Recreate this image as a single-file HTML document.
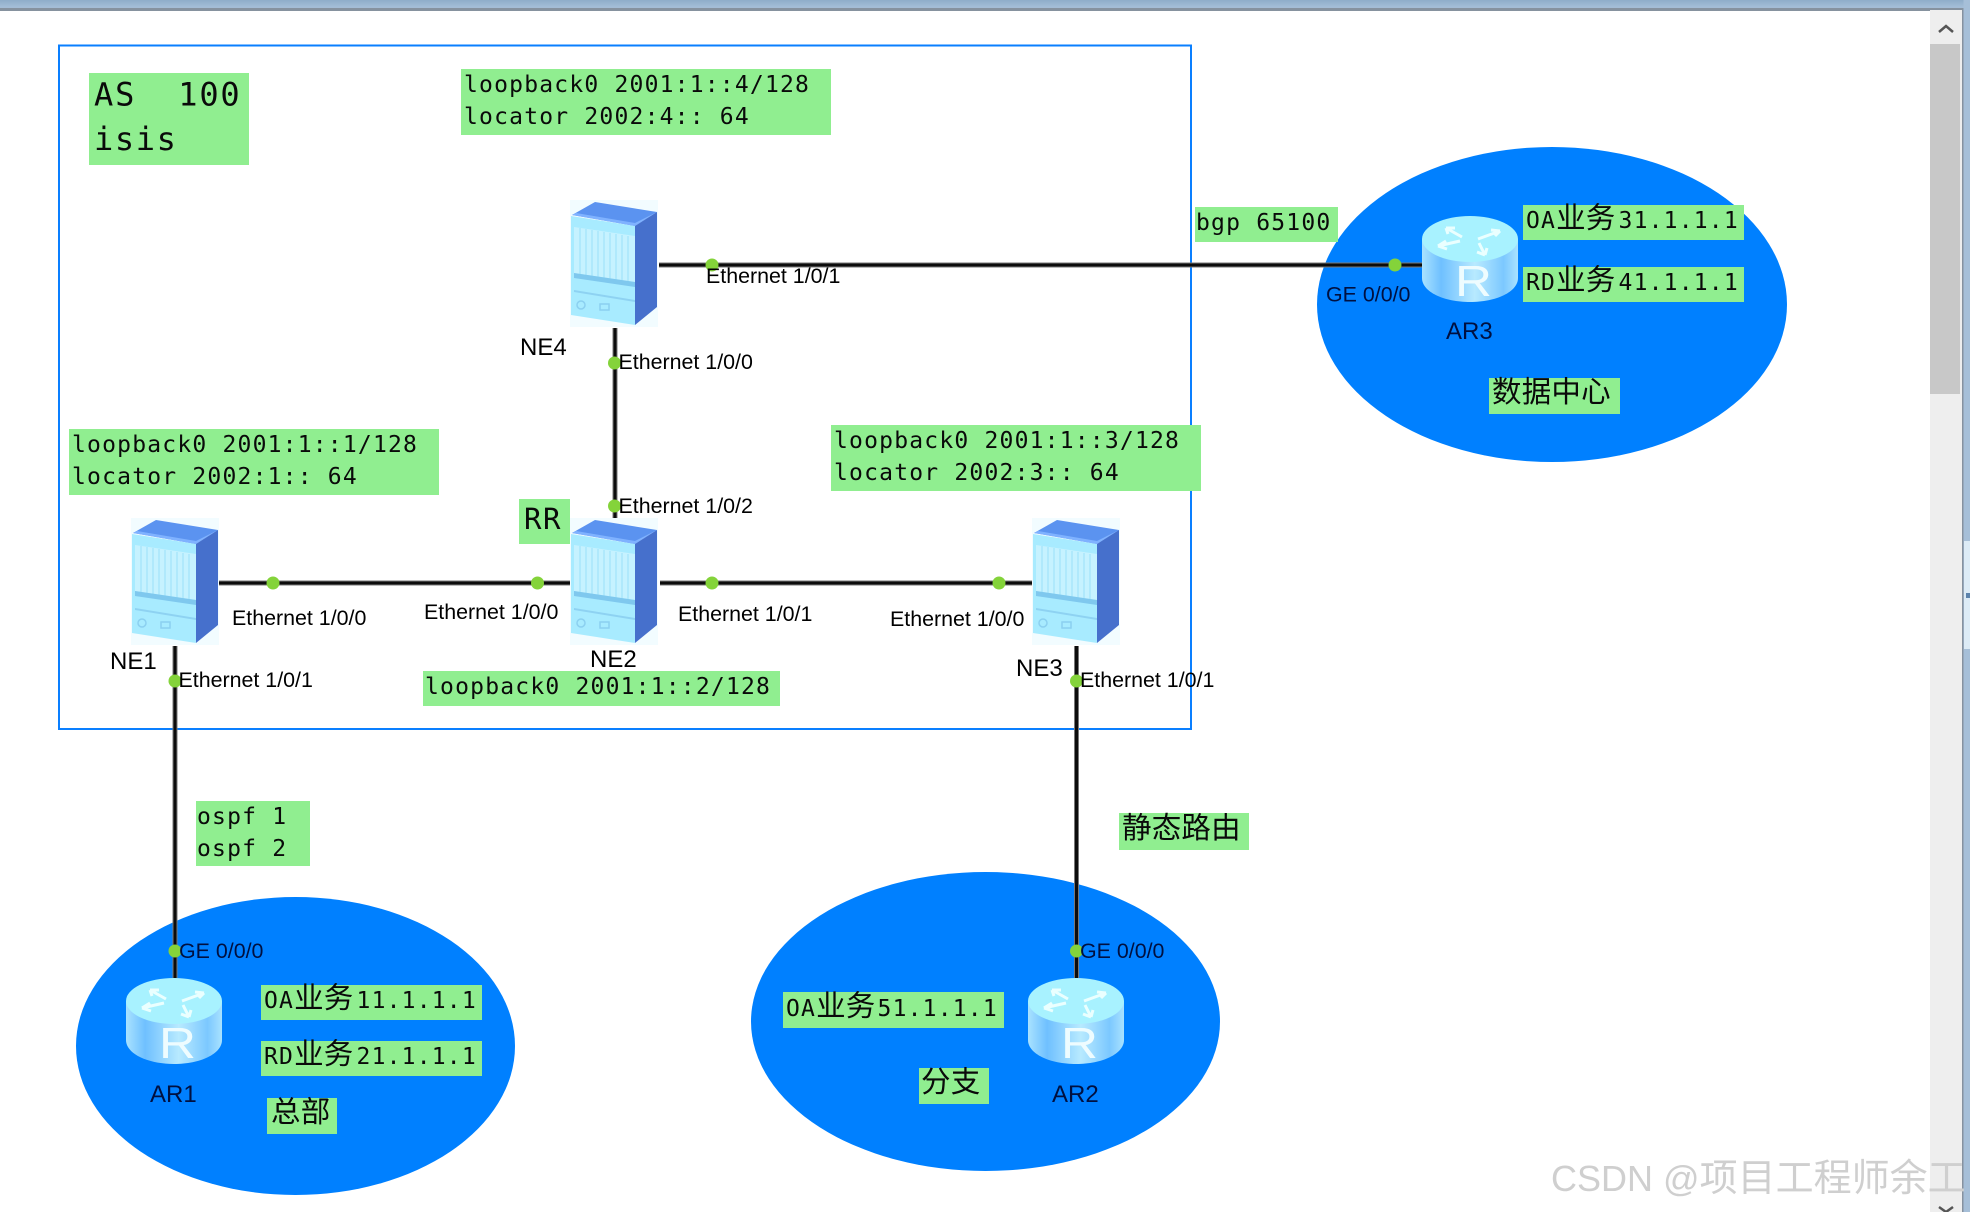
<!DOCTYPE html>
<html><head><meta charset="utf-8"><style>
html,body{margin:0;padding:0;background:#fff;width:1970px;height:1212px;overflow:hidden}
svg{display:block}
.m{font-family:"DejaVu Sans Mono","Liberation Mono",monospace;font-size:23px;letter-spacing:1.2px;fill:#0a0a0a;white-space:pre}
.c{font-family:"Noto Sans CJK SC","WenQuanYi Zen Hei",sans-serif;font-size:29.5px;letter-spacing:.2px;fill:#0a0a0a}
.e{font-family:"Liberation Sans",sans-serif;font-size:21.4px;fill:#000}
.n{font-family:"Liberation Sans",sans-serif;font-size:24px;fill:#000}
.d{font-family:"Liberation Sans",sans-serif;font-size:24px;fill:#001040}
.g{font-family:"Liberation Sans",sans-serif;font-size:21.4px;fill:#001040}
.w{font-family:"Liberation Sans","Noto Sans CJK SC",sans-serif;font-size:36px;fill:#cfcfcf}
</style></head><body>
<svg width="1970" height="1212" viewBox="0 0 1970 1212" xmlns="http://www.w3.org/2000/svg">
<defs>
<linearGradient id="bar" x1="0" y1="0" x2="0" y2="1"><stop offset="0" stop-color="#8fadc9"/><stop offset=".7" stop-color="#a6bfd8"/><stop offset=".75" stop-color="#86929f"/><stop offset="1" stop-color="#86929f"/></linearGradient>
<linearGradient id="rb" x1="0" y1="0" x2="1" y2="0"><stop offset="0" stop-color="#a9e2ff"/><stop offset=".2" stop-color="#6fc0ff"/><stop offset=".55" stop-color="#b8eaff"/><stop offset=".85" stop-color="#7cc8ff"/><stop offset="1" stop-color="#a9e2ff"/></linearGradient>
<g id="dev">
<rect x="0" y="0" width="88" height="127" fill="#f2fcff"/>
<polygon points="1,16 65,26 65,125 1,115" fill="#a8ebff"/>
<polygon points="2,15 25,2 87,12 65,26" fill="#5b93f0"/>
<polygon points="2,15 65,26 87,12 65,23 6,13" fill="#7fb2ff"/>
<polygon points="65,26 87,12 87,107 65,125" fill="#4670cc"/>
<polygon points="4,27 65,36 65,82 4,73" fill="#c6f2ff"/>
<g stroke="#a8e6fb" stroke-width="1.500"><path d="M10 28V74M16 29V75M22 30V76M28 31V77M34 32V78M40 33V79M46 34V80M52 35V81M58 36V82"/></g>
<polygon points="4,73 65,82 65,87 4,78" fill="#7fc8ee"/>
<polygon points="4,90 65,100 65,102 4,92" fill="#8ed2f2"/>
<g fill="none" stroke="#8bd0f0" stroke-width="1.500"><circle cx="11" cy="105" r="4"/><rect x="30" y="104" width="9" height="6"/></g>
</g>
<g id="rtr">
<path d="M0 23V62C0 76 22 86 48 86S96 76 96 62V23Z" fill="url(#rb)"/>
<ellipse cx="48" cy="23" rx="48" ry="23" fill="#a8f2ff"/>
<g fill="none" stroke="#eaffff" stroke-width="3"><path d="M40 21L24 12M24 12l9 0M24 12l2 6"/><path d="M56 23L78 15M78 15l-9-1M78 15l-5 5"/><path d="M57 27L63 39M63 39l-8-3M63 39l2-7"/><path d="M38 25L16 30M16 30l8-5M16 30l9 3"/></g>
<text x="33" y="80" font-family="Liberation Sans,sans-serif" font-size="44" textLength="37" lengthAdjust="spacingAndGlyphs" fill="#eefcff">R</text>
</g>
</defs>

<rect x="0" y="0" width="1970" height="11" fill="url(#bar)"/>

<ellipse cx="295.500" cy="1046" rx="219.500" ry="149" fill="#0080ff"/>
<ellipse cx="985.500" cy="1021.500" rx="234.500" ry="149.500" fill="#0080ff"/>
<ellipse cx="1552" cy="304.500" rx="235" ry="157.500" fill="#0080ff"/>

<rect x="59" y="45.500" width="1132" height="683.500" fill="none" stroke="#0a7fff" stroke-width="2"/>

<g fill="none" stroke="#777" stroke-width="5">
<path d="M659 265H1422M219 583H570M660 583H1032M615 328V518M175 646V978M1076.500 646V978"/>
</g>
<g fill="none" stroke="#0c0c0c" stroke-width="3">
<path d="M659 265H1422M219 583H570M660 583H1032M615 328V518M175 646V978M1076.500 646V978"/>
</g>

<use href="#dev" x="570" y="200"/>
<use href="#dev" x="131" y="518"/>
<use href="#dev" x="570" y="518"/>
<use href="#dev" x="1032" y="518"/>
<use href="#rtr" x="126" y="978"/>
<use href="#rtr" x="1028" y="978"/>
<use href="#rtr" x="1422" y="216"/>

<g fill="#84d33a">
<circle cx="712" cy="265" r="6.500"/><circle cx="1395" cy="265" r="6.500"/>
<circle cx="614.500" cy="363" r="6.500"/><circle cx="614.500" cy="506" r="6.500"/>
<circle cx="273" cy="583" r="6.500"/><circle cx="537.500" cy="583" r="6.500"/>
<circle cx="712" cy="583" r="6.500"/><circle cx="999" cy="583" r="6.500"/>
<circle cx="175" cy="681" r="6.500"/><circle cx="1076.500" cy="681" r="6.500"/>
<circle cx="175" cy="951" r="6.500"/><circle cx="1076.500" cy="951" r="6.500"/>
</g>

<g fill="#90ee90">
<rect x="89" y="73" width="160" height="92"/>
<rect x="461" y="69" width="370" height="66"/>
<rect x="69" y="429" width="370" height="66"/>
<rect x="831" y="425" width="370" height="66"/>
<rect x="519" y="499" width="51" height="45"/>
<rect x="423" y="671" width="357" height="35"/>
<rect x="196" y="801" width="114" height="65"/>
<rect x="1119" y="813" width="130" height="37"/>
<rect x="1195" y="207" width="143" height="35"/>
<rect x="1523" y="205" width="221" height="35"/>
<rect x="1523" y="267" width="221" height="35"/>
<rect x="1489" y="378" width="131" height="36"/>
<rect x="261" y="985" width="221" height="35"/>
<rect x="261" y="1041" width="221" height="35"/>
<rect x="267" y="1098" width="70" height="36"/>
<rect x="783" y="992" width="221" height="36"/>
<rect x="919" y="1068" width="70" height="36"/>
</g>

<text class="m" x="94" y="105.500" style="font-size:32px;letter-spacing:1.8px">AS  100</text>
<text class="m" x="94" y="150" style="font-size:32px;letter-spacing:1.6px">isis</text>
<text class="m" x="464" y="92">loopback0 2001:1::4/128</text>
<text class="m" x="464" y="124">locator 2002:4:: 64</text>
<text class="m" x="72" y="452">loopback0 2001:1::1/128</text>
<text class="m" x="72" y="484">locator 2002:1:: 64</text>
<text class="m" x="834" y="448">loopback0 2001:1::3/128</text>
<text class="m" x="834" y="480">locator 2002:3:: 64</text>
<text class="m" x="425" y="694">loopback0 2001:1::2/128</text>
<text class="m" x="524" y="529" style="font-size:29px;letter-spacing:1.500px">RR</text>
<text class="m" x="197" y="824">ospf 1</text>
<text class="m" x="197" y="856">ospf 2</text>
<text class="m" x="1196" y="230">bgp 65100</text>

<text class="m" x="1526" y="228">OA<tspan class="c">业务</tspan><tspan dx="3">31.1.1.1</tspan></text>
<text class="m" x="1526" y="290">RD<tspan class="c">业务</tspan><tspan dx="3">41.1.1.1</tspan></text>
<text class="m" x="264" y="1008">OA<tspan class="c">业务</tspan><tspan dx="3">11.1.1.1</tspan></text>
<text class="m" x="264" y="1064">RD<tspan class="c">业务</tspan><tspan dx="3">21.1.1.1</tspan></text>
<text class="m" x="786" y="1016">OA<tspan class="c">业务</tspan><tspan dx="2">51.1.1.1</tspan></text>
<text class="c" x="1492" y="402">数据中心</text>
<text class="c" x="271" y="1122">总部</text>
<text class="c" x="921" y="1092">分支</text>
<text class="c" x="1122" y="838">静态路由</text>

<text class="e" x="706" y="283">Ethernet 1/0/1</text>
<text class="e" x="618.500" y="369">Ethernet 1/0/0</text>
<text class="e" x="618.500" y="513">Ethernet 1/0/2</text>
<text class="e" x="232" y="625">Ethernet 1/0/0</text>
<text class="e" x="424" y="619">Ethernet 1/0/0</text>
<text class="e" x="678" y="621">Ethernet 1/0/1</text>
<text class="e" x="890" y="626">Ethernet 1/0/0</text>
<text class="e" x="178.500" y="687">Ethernet 1/0/1</text>
<text class="e" x="1080" y="687">Ethernet 1/0/1</text>
<text class="g" x="179" y="958">GE 0/0/0</text>
<text class="g" x="1080" y="958">GE 0/0/0</text>
<text class="g" x="1326" y="301.500">GE 0/0/0</text>

<text class="n" x="520" y="355">NE4</text>
<text class="n" x="110" y="669">NE1</text>
<text class="n" x="590" y="667">NE2</text>
<text class="n" x="1016" y="676">NE3</text>
<text class="d" x="150" y="1102">AR1</text>
<text class="d" x="1052" y="1102">AR2</text>
<text class="d" x="1446" y="339">AR3</text>

<rect x="1930" y="10" width="32" height="1202" fill="#eeeeee"/>
<rect x="1930" y="44" width="30" height="350" fill="#c8c8c8"/>
<path d="M1939 32L1946 26L1953 32" fill="none" stroke="#555" stroke-width="2.500"/>
<path d="M1939 1207L1946 1212L1953 1207" fill="none" stroke="#555" stroke-width="2.500"/>
<rect x="1962" y="10" width="1.500" height="1202" fill="#86929f"/>
<rect x="1963.500" y="0" width="6.500" height="1212" fill="#a6bfd8"/>
<rect x="1964" y="541" width="6" height="108" fill="#dcebf6"/>
<rect x="1966" y="593" width="4" height="5" fill="#5c83ad"/>

<text class="w" x="1551" y="1191">CSDN @<tspan style="font-size:38px">项目工程师余工</tspan></text>
</svg>
</body></html>
